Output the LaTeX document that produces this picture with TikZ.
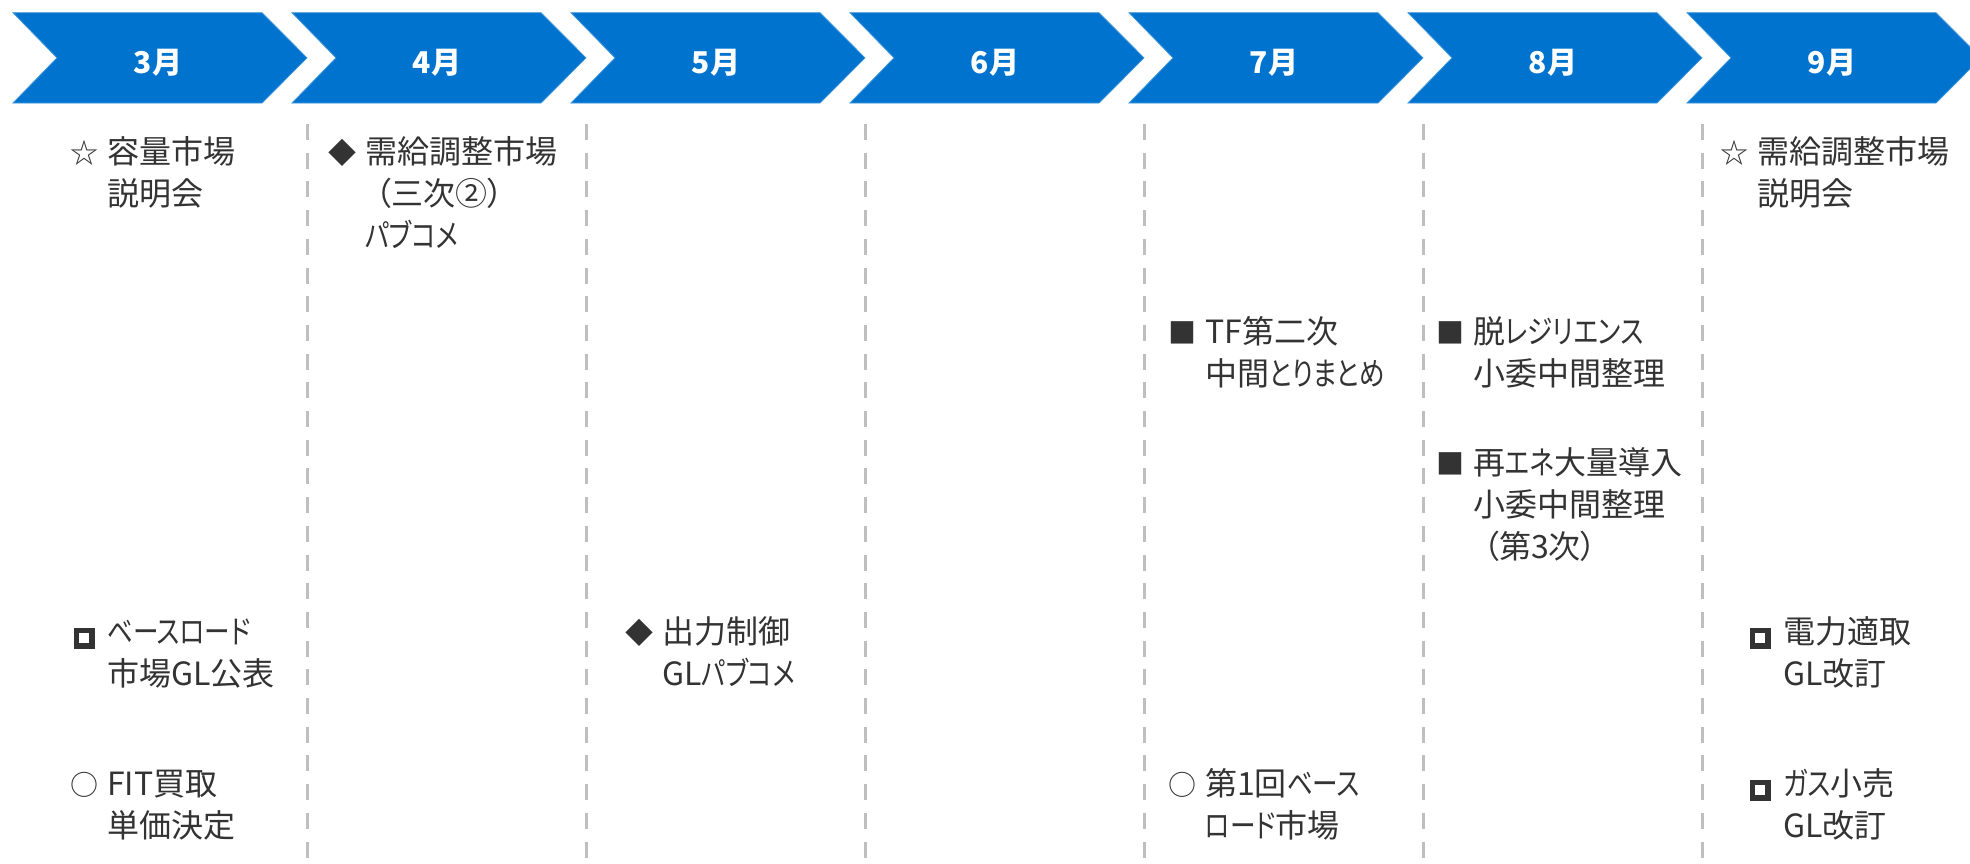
\documentclass[tikz,border=0pt]{standalone}
\usepackage{fontspec}
\setmainfont{Noto Sans CJK JP}[RawFeature={+palt}]
\newfontfamily\kanaf{Noto Sans CJK JP}[RawFeature={+palt},FakeStretch=0.8]
\definecolor{chevblue}{HTML}{0073CF}
\definecolor{ink}{HTML}{333333}
\definecolor{sepgray}{HTML}{BFBFBF}
\newcommand\hsq{\raisebox{0pt}{\setlength\fboxsep{0pt}\setlength\fboxrule{5.5pt}\fbox{\rule{0pt}{10pt}\rule{10pt}{0pt}}}}
\newcommand\sym[1]{\llap{\makebox[46pt][c]{\fontsize{28}{42}\selectfont #1}}}
\newcommand\kn[1]{{\kanaf #1}}
\newcommand\pr{\hspace*{10pt}}
\begin{document}
\begin{tikzpicture}[x=1pt,y=-1pt,
  chev/.style={fill=chevblue, draw=chevblue!75!white, line width=0.8pt},
  mlabel/.style={text=white, font=\fontsize{30}{36}\selectfont\bfseries, inner sep=0pt},
  sep/.style={draw=sepgray, line width=3pt, dash pattern=on 16pt off 12.7pt},
  item/.style={anchor=base west, align=left, inner sep=0pt, text=ink, font=\fontsize{32}{42}\selectfont},
]
\useasboundingbox (0,0) rectangle (1970,863);
\clip (0,0) rectangle (1970,863);
\fill[white] (0,0) rectangle (1970,863);
\foreach \i/\m in {0/3,1/4,2/5,3/6,4/7,5/8,6/9} {
  \pgfmathsetmacro\L{13+279*\i}
  \filldraw[chev] (\L,12.7) -- ++(249,0) -- ++(45,45.15) -- ++(-45,45.15) -- ++(-249,0) -- ++(44,-45.15) -- cycle;
  \node[mlabel] (m\m) at (\L+145,63) {\m 月};
}
\foreach \i in {0,...,5} {
  \pgfmathsetmacro\X{307+279*\i}
  \coordinate (st\i) at (\X,124);
  \coordinate (en\i) at (\X,863);
  \draw[sep] (st\i) -- (en\i);
}
% anchor = baseline of the last line
\node[item] (a1) at (107,205) {\sym{☆}容量市場\\説明会};
\node[item] (a2) at (107,685) {\sym{\hsq}\kn{ベースロード}\\市場GL公表};
\node[item] (a3) at (107,837) {\sym{○}FIT買取\\単価決定};
\node[item] (b1) at (365,247) {\sym{◆}需給調整市場\\\pr（三次②）\\\kn{パブコメ}};
\node[item] (c1) at (662,685) {\sym{◆}出力制御\\GL\kn{パブコメ}};
\node[item] (e1) at (1205,385) {\sym{■}TF第二次\\中間\kn{とりまとめ}};
\node[item] (e2) at (1205,837) {\sym{○}第1回\kn{ベース}\\\kn{ロード}市場};
\node[item] (f1) at (1473,385) {\sym{■}脱\kn{レジリエンス}\\小委中間整理};
\node[item] (f2) at (1473,558) {\sym{■}再\kn{エネ}大量導入\\小委中間整理\\\pr（第3次）};
\node[item] (g1) at (1757,205) {\sym{☆}需給調整市場\\説明会};
\node[item] (g2) at (1783,685) {\sym{\hsq}電力適取\\GL改訂};
\node[item] (g3) at (1783,837) {\sym{\hsq}\kn{ガス}小売\\GL改訂};
\end{tikzpicture}
\end{document}
